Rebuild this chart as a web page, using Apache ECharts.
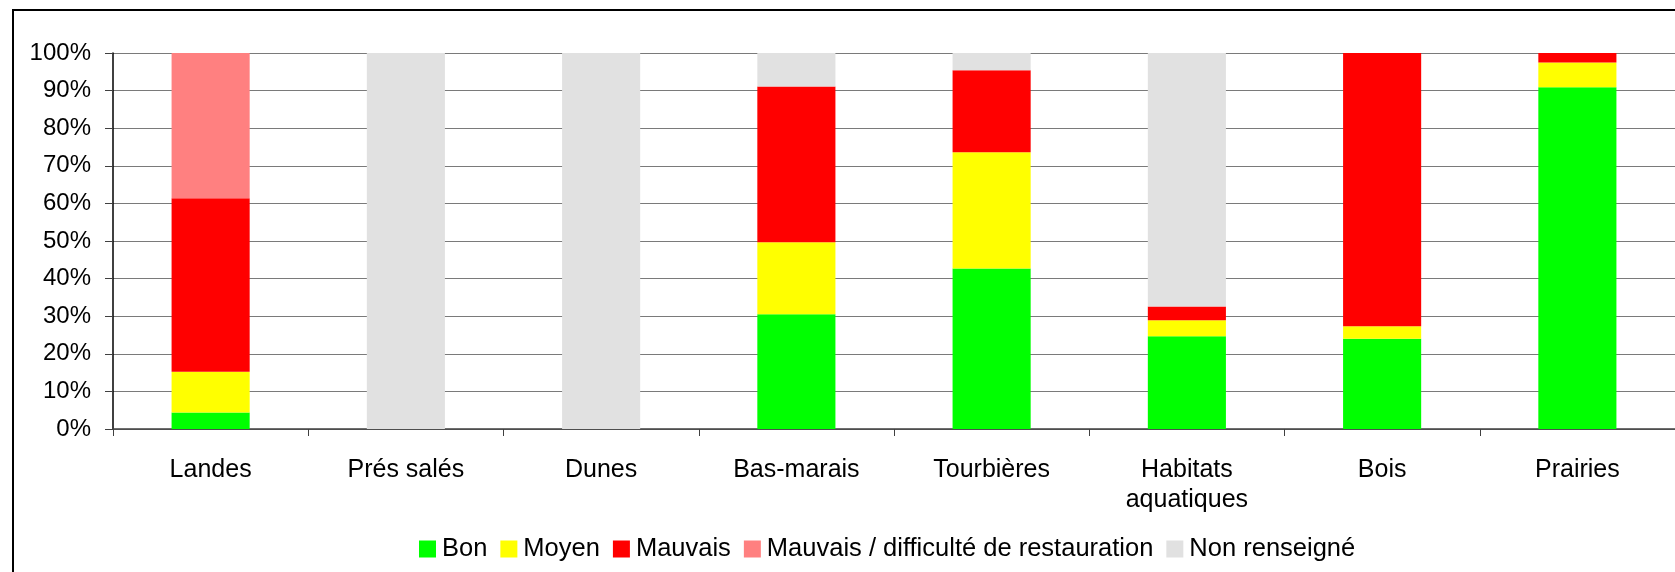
<!DOCTYPE html>
<html>
<head>
<meta charset="utf-8">
<script src="https://cdn.jsdelivr.net/npm/echarts@6/dist/echarts.min.js"></script>
<style>
  html, body { margin: 0; padding: 0; background: #fff; }
  #chart { width: 1675px; height: 572px; }
</style>
</head>
<body>
<div id="chart"></div>
<script>
  // habitats (axe des x)
  var categories = ['Landes', 'Prés salés', 'Dunes', 'Bas-marais', 'Tourbières',
                    'Habitats\naquatiques', 'Bois', 'Prairies'];
  // parts en %
  var bon       = [4.4, 0, 0, 30.5, 42.7, 24.7, 24.0, 90.9];
  var moyen     = [10.8, 0, 0, 19.2, 30.9, 4.2, 3.3, 6.6];
  var mauvais   = [46.2, 0, 0, 41.4, 21.8, 3.7, 72.7, 2.5];
  var difficile = [38.6, 0, 0, 0, 0, 0, 0, 0];
  var nonRens   = [0, 100, 100, 8.9, 4.6, 67.4, 0, 0];
  var yTicks = { min: 0, max: 100, interval: 10 };

  var chart = echarts.init(document.getElementById('chart'));
  var font = 'Liberation Sans, Arial, sans-serif';

  function serie(name, data, color) {
    return {
      name: name,
      type: 'bar',
      stack: 'total',
      barWidth: '40%',
      data: data,
      itemStyle: { color: color },
      emphasis: { disabled: true }
    };
  }

  var option = {
    animation: false,
    textStyle: { fontFamily: font },
    graphic: [{
      type: 'rect',
      shape: { x: 13, y: 10, width: 1700, height: 600 },
      style: { fill: 'none', stroke: '#000', lineWidth: 2 },
      silent: true
    }],
    grid: { left: 113, top: 53, width: 1568, height: 376 },
    legend: {
      left: 414,
      top: 531,
      icon: 'rect',
      itemWidth: 17,
      itemHeight: 17,
      itemGap: 13,
      selectedMode: false,
      textStyle: { fontSize: 25.5, color: '#000', fontFamily: font, padding: [0, 0, 0, 1] },
      data: ['Bon', 'Moyen', 'Mauvais', 'Mauvais / difficulté de restauration', 'Non renseigné']
    },
    xAxis: {
      type: 'category',
      data: categories,
      axisLine: { lineStyle: { color: '#404040', width: 1.5 } },
      axisTick: { show: true, length: 7, lineStyle: { color: '#404040' } },
      axisLabel: { fontSize: 25, color: '#000', margin: 26, lineHeight: 30, interval: 0 }
    },
    yAxis: {
      type: 'value',
      min: yTicks.min,
      max: yTicks.max,
      interval: yTicks.interval,
      axisLine: { show: true, lineStyle: { color: '#000', width: 1.5 } },
      axisTick: { show: true, length: 8, lineStyle: { color: '#404040' } },
      axisLabel: { fontSize: 24, color: '#000', margin: 22, formatter: '{value}%' },
      splitLine: { lineStyle: { color: '#7a7a7a', width: 1.2 } }
    },
    series: [
      serie('Bon', bon, '#00ff00'),
      serie('Moyen', moyen, '#ffff00'),
      serie('Mauvais', mauvais, '#ff0000'),
      serie('Mauvais / difficulté de restauration', difficile, '#ff8080'),
      serie('Non renseigné', nonRens, '#e1e1e1')
    ]
  };
  chart.setOption(option);
  window.addEventListener('resize', function () {
    chart.resize();
  });
</script>
</body>
</html>
